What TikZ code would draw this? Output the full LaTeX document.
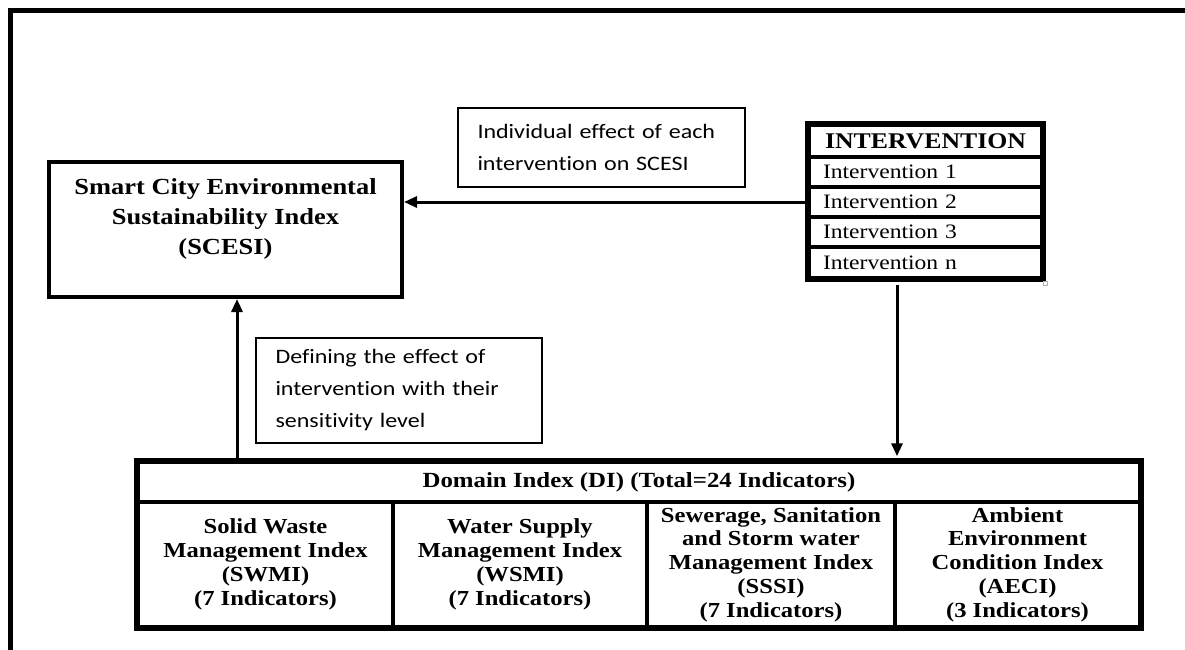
\documentclass[tikz,border=0pt]{standalone}
\usepackage{fontspec}
\setmainfont[FakeStretch=1.15]{Liberation Serif}
\newfontfamily\calibrifont[FakeStretch=1.17,Ligatures=NoCommon]{Carlito}
\usetikzlibrary{arrows.meta}

\begin{document}
\begin{tikzpicture}[x=1pt,y=-1pt,
  heavybox/.style={draw,line width=4pt,inner sep=0pt},
  cell/.style={draw,line width=3.5pt,inner sep=0pt,align=center,
    font=\bfseries\fontsize{21.4}{23.8}\selectfont},
  introw/.style={draw,line width=3.5pt,minimum width=233pt,inner xsep=14pt,
    inner ysep=0pt,text width=205pt,align=left,font=\fontsize{20.5}{24}\selectfont},
  note/.style={draw,line width=1.3pt,inner xsep=19.5pt,inner ysep=0pt,align=left,
    font=\calibrifont\fontsize{20.5}{32}\selectfont},
  arr/.style={line width=3pt,-{Triangle[length=13pt,width=11pt]}}]
\useasboundingbox (0,0) rectangle (1185,649);
\fill[white] (0,0) rectangle (1185,649);

% outer frame, running off the right and bottom edges
\draw[line width=5pt] (1195,10) -- (10,10) -- (10,660);

% overall index
\node[heavybox,minimum width=353pt,minimum height=135pt] (scesi) at (225.5,229.5) {};
\node[align=center,font=\bfseries\fontsize{23}{30}\selectfont] (scesi-t) at (225.5,219)
  {Smart City Environmental\\Sustainability Index\\(SCESI)};

% list of interventions
\node[introw,minimum height=32pt,align=center,font=\bfseries\fontsize{22.4}{24}\selectfont] (int-h) at (925.5,141) {INTERVENTION};
\node[introw,minimum height=30pt] (int-1) at (925.5,172) {Intervention 1};
\node[introw,minimum height=30pt] (int-2) at (925.5,202) {Intervention 2};
\node[introw,minimum height=30pt] (int-3) at (925.5,232) {Intervention 3};
\node[introw,minimum height=31pt] (int-n) at (925.5,262.5) {Intervention n};
\draw[line width=4pt] (int-h.north west) rectangle (int-n.south east);
\draw[gray!60,line width=0.6pt] (1043,281) rectangle (1047,285);

% explanatory notes
\node[note,text width=248pt,minimum height=79pt] (note-top) at (601.5,147.5)
  {Individual effect of each\\intervention on SCESI};
\node[note,text width=247pt,minimum height=105pt] (note-left) at (399,390.5)
  {Defining the effect of\\intervention with their\\sensitivity level};

% domain index table
\node[cell,minimum width=1002pt,minimum height=40pt,font=\bfseries\fontsize{21.6}{24}\selectfont] (di) at (639,482)
  {Domain Index (DI) (Total=24 Indicators)};
\node[cell,minimum width=255pt,minimum height=125pt] (swmi) at (265.5,564.5)
  {Solid Waste\\Management Index\\(SWMI)\\(7 Indicators)};
\node[cell,minimum width=254pt,minimum height=125pt] (wsmi) at (520,564.5)
  {Water Supply\\Management Index\\(WSMI)\\(7 Indicators)};
\node[cell,minimum width=248pt,minimum height=125pt] (sssi) at (771,564.5)
  {Sewerage, Sanitation\\and Storm water\\Management Index\\(SSSI)\\(7 Indicators)};
\node[cell,minimum width=245pt,minimum height=125pt] (aeci) at (1017.5,564.5)
  {Ambient\\Environment\\Condition Index\\(AECI)\\(3 Indicators)};
\draw[line width=4pt] (di.north west) rectangle (aeci.south east);

% connectors
\coordinate (drop) at (897,285);
\coordinate (rise) at (237,462);
\draw[arr] (int-2.west) -- (int-2.west -| scesi.east);
\draw[arr] (drop) -- ([yshift=4pt]drop |- di.north);
\draw[arr] (rise) -- (rise |- scesi.south);
\end{tikzpicture}
\end{document}
